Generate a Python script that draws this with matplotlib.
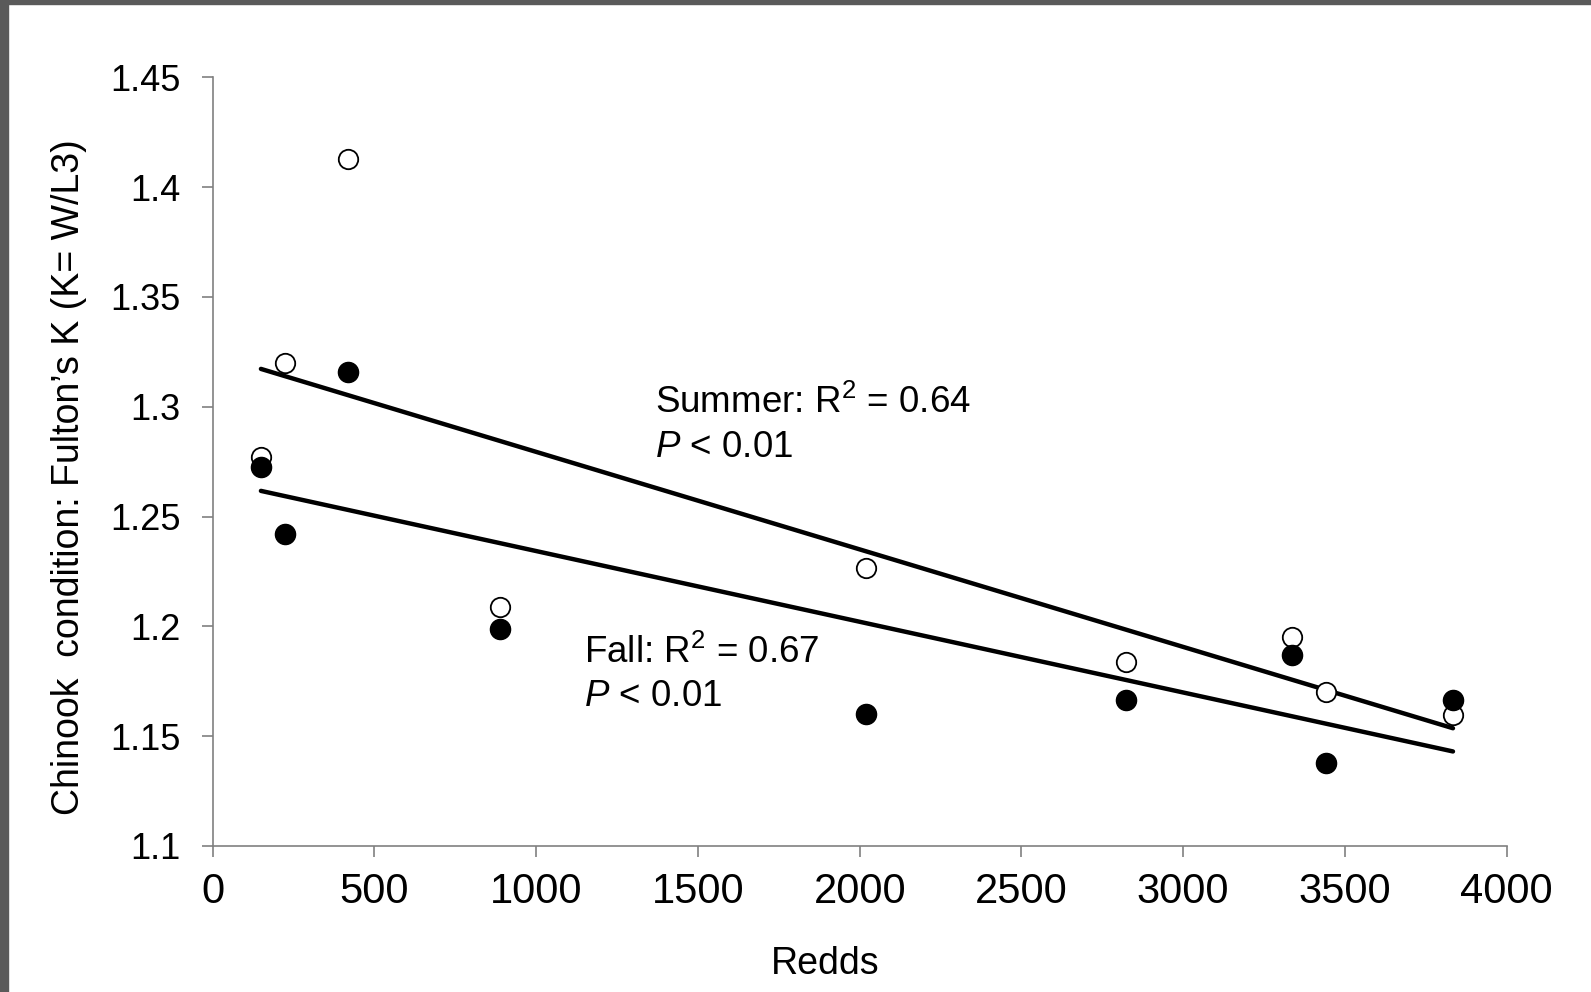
import numpy as np
import matplotlib
matplotlib.use("Agg")
import matplotlib.pyplot as plt
from matplotlib.patches import Rectangle

plt.rcParams['font.family'] = ['Liberation Sans', 'DejaVu Sans']
plt.rcParams['mathtext.fontset'] = 'custom'
plt.rcParams['mathtext.rm'] = 'Liberation Sans'
plt.rcParams['mathtext.it'] = 'Liberation Sans:italic'

# Data
summer_redds = [149, 224, 418, 889, 2018, 2824, 3335, 3442, 3834]
summer_k = [1.277, 1.320, 1.413, 1.209, 1.2265, 1.184, 1.195, 1.170, 1.1595]
fall_redds = [149, 224, 418, 889, 2018, 2824, 3335, 3442, 3834]
fall_k = [1.2727, 1.2422, 1.3157, 1.1988, 1.160, 1.1664, 1.1868, 1.1378, 1.1664]
x_ticks = [0, 500, 1000, 1500, 2000, 2500, 3000, 3500, 4000]
y_ticks = [1.1, 1.15, 1.2, 1.25, 1.3, 1.35, 1.4, 1.45]
y_ticklabels = ['1.1', '1.15', '1.2', '1.25', '1.3', '1.35', '1.4', '1.45']

fig = plt.figure(figsize=(15.91, 9.92), dpi=100)
ax = fig.add_axes([0.1337, 0.1472, 0.8133, 0.7748])

# gray frame edges
fig.patches.append(Rectangle((0, 0), 8/1591, 1, transform=fig.transFigure, color='#5a5a5a', zorder=10))
fig.patches.append(Rectangle((0, 1-4/992), 1, 4/992, transform=fig.transFigure, color='#5a5a5a', zorder=10))

# trend lines
for xs, ys in [(summer_redds, summer_k), (fall_redds, fall_k)]:
    xs = np.array(xs); ys = np.array(ys)
    m, b = np.polyfit(xs, ys, 1)
    xx = np.array([xs.min(), xs.max()])
    ax.plot(xx, m*xx + b, color='black', lw=3.2, solid_capstyle='round', zorder=2)

ax.plot(summer_redds, summer_k, 'o', ms=14, mfc='white', mec='black', mew=1.3, ls='none', zorder=3)
ax.plot(fall_redds, fall_k, 'o', ms=14.5, mfc='black', mec='black', ls='none', zorder=4)

ax.set_xlim(0, 4000)
ax.set_ylim(1.1, 1.45)
ax.set_xticks(x_ticks)
ax.set_yticks(y_ticks)
ax.set_yticklabels(y_ticklabels)

for s in ['top', 'right']:
    ax.spines[s].set_visible(False)
for s in ['left', 'bottom']:
    ax.spines[s].set_color('#808080')
    ax.spines[s].set_linewidth(1.2)
ax.tick_params(axis='both', direction='out', length=8, width=1.2, color='#808080')
ax.tick_params(axis='y', pad=15, labelsize=26)
ax.tick_params(axis='x', pad=11, labelsize=30)

ax.set_xlabel('Redds', fontsize=27)
ax.xaxis.set_label_coords(0.473, -0.154)
ax.xaxis.label.set_va('center')
ax.set_ylabel('Chinook  condition: Fulton\u2019s K (K= W/L3)', fontsize=27)
ax.yaxis.set_label_coords(-0.111, 0.48)
ax.yaxis.label.set_va('center')

ax.text(1366, 1.3018, 'Summer: R$^2$ = 0.64', fontsize=26.5, va='center', ha='left')
ax.text(1366, 1.2815, '$P$ < 0.01', fontsize=26.5, va='center', ha='left')
ax.text(1149, 1.1877, 'Fall: R$^2$ = 0.67', fontsize=26.5, va='center', ha='left')
ax.text(1149, 1.1679, '$P$ < 0.01', fontsize=26.5, va='center', ha='left')

fig.savefig('out.png', dpi=100)
